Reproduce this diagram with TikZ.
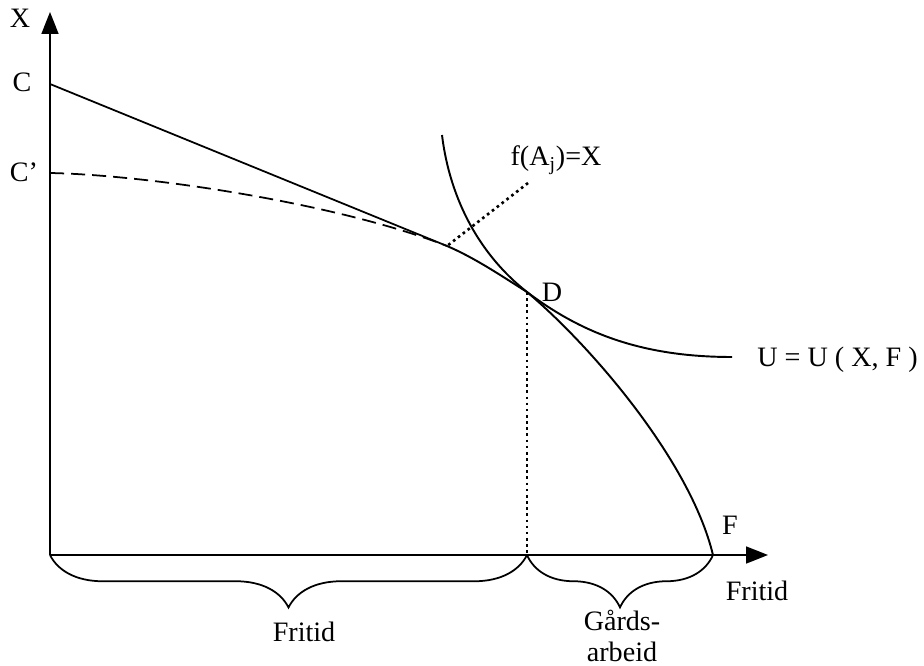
\documentclass[tikz,border=0pt]{standalone}
\usepackage{fontspec}
\setmainfont{Liberation Serif}
\usetikzlibrary{arrows.meta,decorations.pathreplacing,positioning}
\begin{document}
\begin{tikzpicture}[x=0.02cm,y=-0.02cm,
  every node/.style={font=\fontsize{16}{18}\selectfont},
  axis/.style={line width=1pt,-{Triangle[length=0.44cm,width=0.34cm]}},
  curve/.style={line width=1.1pt},
  dots/.style={line width=1.5pt,dash pattern=on 1.5pt off 2pt},
  brc/.style={line width=1pt,decorate,decoration={brace,mirror,amplitude=1.05cm}}]
\useasboundingbox (0,0) rectangle (924,666);
\coordinate (O) at (50,555);
\coordinate (C) at (50,84);
\coordinate (Cp) at (50,173);
\coordinate (T) at (447,246);
\coordinate (D) at (527,292);
\coordinate (Dfoot) at (527,555);
\coordinate (F) at (713,555);
\coordinate (Utop) at (442,135);
\coordinate (Uend) at (732,357);
\draw[axis] (O) -- (50,12) coordinate (ytip);
\draw[axis] (O) -- (768,555) coordinate (xtip);
\node (xlab) at (20,18) {X};
\node (clab) at (22,82) {C};
\node (cplab) at (24,172) {C'};
\draw[line width=1pt] (C) -- (T);
\draw[line width=1pt,dash pattern=on 8pt off 4pt] (Cp) .. controls (150,175) and (340,204) .. (T);
\draw[curve] (T) .. controls (475,258) and (500,275) .. (D)
  .. controls (590,345) and (690,460) .. (F);
\draw[curve] (Utop) .. controls (450,200) and (480,255) .. (D)
  .. controls (580,332) and (640,357) .. (Uend);
\draw[dots] (D) -- (Dfoot);
\node (flab) at (556,160) {f(A\textsubscript{j})=X};
\draw[dots] (528,183) -- (T);
\node (dlab) at (552,292) {D};
\node[anchor=west,inner sep=0pt] (ulab) at (757,360) {U = U ( X, F )};
\node (Flab) at (730,525) {F};
\node (xname) at (757,591) {Fritid};
\draw[brc] (O) -- (Dfoot);
\draw[brc] (Dfoot) -- (F);
\node (fritid) at (304,632) {Fritid};
\node[align=center] (gard) at (622,636) {Gårds-\\arbeid};
\end{tikzpicture}
\end{document}
